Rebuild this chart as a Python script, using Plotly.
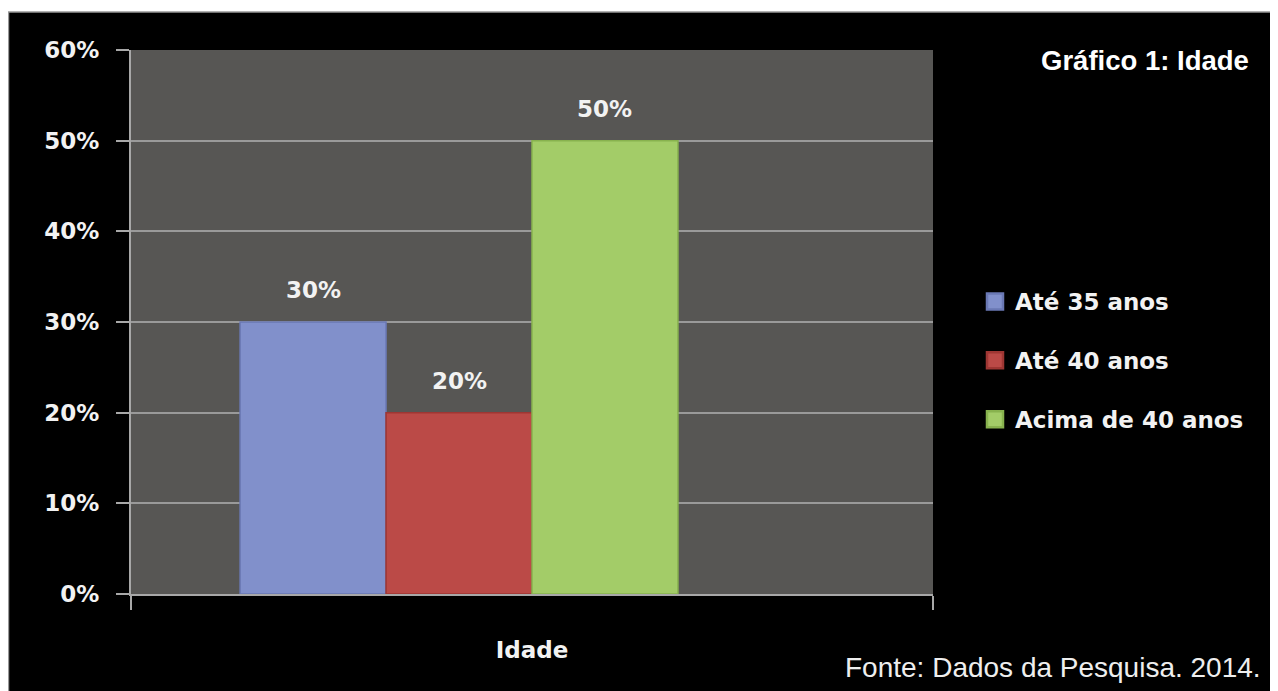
import plotly.graph_objects as go

# ---- data ----
category = ["Idade"]
series_names = ["Até 35 anos", "Até 40 anos", "Acima de 40 anos"]
series_values = [0.30, 0.20, 0.50]
value_labels = ["30%", "20%", "50%"]
y_ticks = [0, 0.1, 0.2, 0.3, 0.4, 0.5, 0.6]
y_tick_labels = ["0%", "10%", "20%", "30%", "40%", "50%", "60%"]
title_text = "Gráfico 1: Idade"
source_text = "Fonte: Dados da Pesquisa. 2014."

# ---- style ----
colors = ["#8190cb", "#bb4a47", "#a3cc68"]
edge_colors = ["#6a78b4", "#9e3633", "#88b24e"]
OFF = 8  # page body margin offset
W, H = 1278 - OFF, 691 - OFF
ML, MT = 131 - OFF, 50 - OFF
PW, PH = 802, 544
MR, MB = W - ML - PW, H - MT - PH
BAR_W = 0.182  # width of one bar in category units (Excel gap width 150%, 4 slots)
TXT = "#f2f2f2"
FONT = "DejaVu Sans"


def px_x(px):
    # reference-window pixel -> paper coordinate
    return (px - OFF - ML) / PW


def px_y(py):
    return (H - MB - (py - OFF)) / PH


fig = go.Figure()
for i, (name, val) in enumerate(zip(series_names, series_values)):
    fig.add_trace(go.Bar(
        x=category, y=[val], name=name,
        width=BAR_W, offset=(i - 2) * BAR_W,
        marker=dict(color=colors[i], line=dict(color=edge_colors[i], width=1.5)),
        showlegend=False, hoverinfo="skip",
    ))
    # legend entry with a larger square symbol
    fig.add_trace(go.Scatter(
        x=category, y=[None], name=name, mode="markers",
        marker=dict(symbol="square", size=16, color=colors[i],
                    line=dict(color=edge_colors[i], width=2.5)),
        legendgroup=name, showlegend=True, hoverinfo="skip",
    ))
    fig.add_annotation(
        x=(i - 2) * BAR_W + BAR_W / 2, y=val, xref="x", yref="y",
        text=f"<b>{value_labels[i]}</b>", showarrow=False,
        yanchor="bottom", yshift=17,
        font=dict(family=FONT, size=23, color=TXT),
    )

fig.add_annotation(
    x=px_x(1251), y=px_y(60), xref="paper", yref="paper",
    xanchor="right", yanchor="middle", showarrow=False,
    text=f"<b>{title_text}</b>",
    font=dict(family="Liberation Sans", size=27.5, color="#ffffff"),
)
fig.add_annotation(
    x=px_x(1263), y=px_y(667), xref="paper", yref="paper",
    xanchor="right", yanchor="middle", showarrow=False,
    text=source_text,
    font=dict(family="Liberation Sans", size=28, color="#eeeeee"),
)

# white page border at the top with thin gray edges
fig.add_shape(type="rect", xref="paper", yref="paper",
              x0=px_x(OFF), x1=px_x(1278), y0=px_y(OFF), y1=px_y(12),
              fillcolor="white", line=dict(width=0), layer="above")
fig.add_shape(type="line", xref="paper", yref="paper",
              x0=px_x(OFF), x1=px_x(1278), y0=px_y(12), y1=px_y(12),
              line=dict(color="#999999", width=1.5), layer="above")
fig.add_shape(type="line", xref="paper", yref="paper",
              x0=px_x(OFF + 0.5), x1=px_x(OFF + 0.5), y0=px_y(12), y1=px_y(691),
              line=dict(color="#999999", width=1.5), layer="above")

fig.update_layout(
    width=W, height=H,
    margin=dict(l=ML, r=MR, t=MT, b=MB, autoexpand=False),
    paper_bgcolor="#000000", plot_bgcolor="#575654",
    barmode="overlay",
    font=dict(family=FONT, color=TXT, size=23),
    legend=dict(
        x=px_x(975), y=px_y(280), xanchor="left", yanchor="top",
        traceorder="grouped", tracegroupgap=26,
        font=dict(family=FONT, size=23, color=TXT, weight="bold"),
        bgcolor="rgba(0,0,0,0)", itemsizing="trace",
    ),
    showlegend=True,
)
fig.update_yaxes(
    range=[0, 0.6], tickvals=y_ticks, ticktext=y_tick_labels,
    showgrid=True, gridcolor="#9a9a9a", gridwidth=2,
    showline=True, linecolor="#a8a8a8", linewidth=2,
    ticks="outside", ticklen=13, tickwidth=2, tickcolor="#a8a8a8",
    ticklabelstandoff=12, zeroline=False,
    tickfont=dict(family=FONT, size=23, color=TXT, weight="bold"),
)
fig.update_xaxes(
    range=[-0.5, 0.5],
    showline=True, linecolor="#a8a8a8", linewidth=2,
    ticks="outside", tickson="boundaries", ticklen=14, tickwidth=2, tickcolor="#a8a8a8",
    ticklabelstandoff=34, showgrid=False, zeroline=False,
    tickfont=dict(family=FONT, size=23, color=TXT, weight="bold"),
)

fig.write_html("out.html")
